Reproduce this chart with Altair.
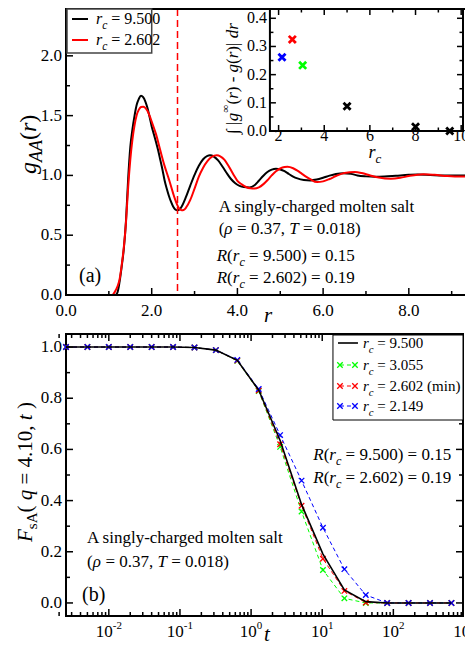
import altair as alt
import pandas as pd

SERIF = "Liberation Serif"

# ---------------- data ----------------
# panel (a): g_AA(r)
R_BLACK = [0.0, 1.0, 1.15, 1.2, 1.25, 1.3, 1.35, 1.4, 1.45, 1.5, 1.55, 1.6, 1.65, 1.7, 1.75, 1.8,
           1.85, 1.9, 1.95, 2.0, 2.05, 2.1, 2.15, 2.2, 2.25, 2.3, 2.35, 2.4, 2.45, 2.5, 2.55, 2.6, 2.65, 2.7,
           2.8, 2.9, 3.0, 3.1, 3.2, 3.3, 3.36, 3.45, 3.55, 3.65, 3.75, 3.85, 3.95, 4.05, 4.15, 4.28,
           4.4, 4.5, 4.6, 4.7, 4.8, 4.9, 5.0, 5.1, 5.2, 5.3, 5.4, 5.55, 5.7, 5.85, 6.0, 6.15, 6.3, 6.47,
           6.65, 6.8, 7.0, 7.2, 7.43, 7.7, 8.0, 8.2, 8.5, 8.8, 9.1, 9.4, 9.7]
G_BLACK = [0, 0, 0.0, 0.02, 0.11, 0.24, 0.39, 0.62, 0.97, 1.235, 1.385, 1.50, 1.59, 1.64, 1.667, 1.655,
           1.62, 1.565, 1.49, 1.41, 1.345, 1.28, 1.21, 1.13, 1.05, 0.96, 0.89, 0.83, 0.78, 0.74, 0.715, 0.708, 0.715, 0.74,
           0.82, 0.915, 1.005, 1.08, 1.135, 1.163, 1.168, 1.158, 1.125, 1.075, 1.02, 0.97, 0.935, 0.913, 0.903, 0.90,
           0.918, 0.955, 0.995, 1.028, 1.048, 1.056, 1.05, 1.035, 1.012, 0.99, 0.975, 0.962, 0.958, 0.965, 0.98, 0.998, 1.012, 1.019,
           1.013, 1.0, 0.992, 0.988, 0.99, 0.997, 1.005, 1.008, 1.004, 1.0, 1.0, 1.0, 1.0]
R_RED = [0.0, 1.0, 1.08, 1.12, 1.16, 1.2, 1.25, 1.3, 1.35, 1.4, 1.45, 1.5, 1.55, 1.6, 1.65, 1.7, 1.75, 1.8,
         1.85, 1.9, 1.95, 2.0, 2.1, 2.2, 2.3, 2.4, 2.5, 2.55, 2.6, 2.65, 2.7, 2.75, 2.8, 2.9, 3.0, 3.1, 3.2,
         3.3, 3.4, 3.52, 3.6, 3.7, 3.8, 3.92, 4.0, 4.1, 4.2, 4.3, 4.4, 4.5, 4.6, 4.7, 4.8, 4.9, 5.0, 5.1,
         5.17, 5.3, 5.4, 5.5, 5.6, 5.7, 5.86, 6.0, 6.15, 6.3, 6.5, 6.74, 6.9, 7.1, 7.3, 7.58, 7.8, 8.0,
         8.34, 8.6, 8.9, 9.2, 9.4, 9.7]
G_RED = [0, 0, 0.0, 0.015, 0.04, 0.07, 0.13, 0.25, 0.40, 0.61, 0.90, 1.13, 1.30, 1.42, 1.505, 1.55, 1.572, 1.575,
         1.565, 1.54, 1.50, 1.45, 1.345, 1.21, 1.08, 0.97, 0.85, 0.795, 0.75, 0.72, 0.708, 0.712, 0.73, 0.795, 0.89, 0.99, 1.065,
         1.12, 1.155, 1.168, 1.16, 1.13, 1.075, 1.0, 0.955, 0.925, 0.903, 0.892, 0.89, 0.90, 0.925, 0.96, 1.0, 1.035, 1.058, 1.07,
         1.072, 1.06, 1.04, 1.015, 0.99, 0.968, 0.944, 0.95, 0.97, 0.995, 1.02, 1.028, 1.02, 1.0, 0.982, 0.972, 0.98, 0.995,
         1.01, 1.005, 0.995, 0.99, 0.99, 0.992]
RC_MIN = [2.602]

# inset
INSET_RC = [2.149, 2.602, 3.055, 5.0, 8.0, 9.5]
INSET_DEV = [0.262, 0.325, 0.233, 0.088, 0.015, 0.0]
INSET_COL = ["#0000ff", "#ff0000", "#00ff00", "#000000", "#000000", "#000000"]

# panel (b): F_sA(q=4.10, t)
T = [0.0025, 0.005, 0.01, 0.02, 0.04, 0.08, 0.16, 0.32, 0.64, 1.28, 2.56, 5.12, 10.24, 20.48,
     40.96, 81.92, 163.84, 327.68, 655.36]
F_9500 = [1, 1, 1, 1, 1, 1, 0.998, 0.988, 0.948, 0.832, 0.635, 0.385, 0.191, 0.051, 0.005, 0, 0, 0, 0]
F_3055 = [1, 1, 1, 1, 1, 1, 0.998, 0.988, 0.946, 0.828, 0.610, 0.357, 0.129, 0.018, 0.0, 0, 0, 0, 0]
F_2602 = [1, 1, 1, 1, 1, 1, 0.998, 0.988, 0.947, 0.830, 0.620, 0.380, 0.173, 0.047, 0.002, 0, 0, 0, 0]
F_2149 = [1, 1, 1, 1, 1, 1, 0.998, 0.988, 0.950, 0.836, 0.656, 0.478, 0.294, 0.132, 0.031, 0.0, 0, 0, 0]

# tick values / labels
TOP_X_MAJOR = [0, 2, 4, 6, 8]
TOP_X_LABELS = ["0.0", "2.0", "4.0", "6.0", "8.0"]
TOP_X_MINOR = [1, 3, 5, 7, 9]
TOP_Y_MAJOR = [0, 0.5, 1.0, 1.5, 2.0]
TOP_Y_LABELS = ["0.0", "0.5", "1.0", "1.5", "2.0"]
TOP_Y_MINOR = [0.25, 0.75, 1.25, 1.75, 2.25]
IN_X_MAJOR = [2, 4, 6, 8, 10]
IN_X_LABELS = ["2", "4", "6", "8", "10"]
IN_X_MINOR = [3, 5, 7, 9]
IN_Y_MAJOR = [0.0, 0.1, 0.2, 0.3, 0.4]
IN_Y_LABELS = ["0.0", "0.1", "0.2", "0.3", "0.4"]
IN_Y_MINOR = [0.05, 0.15, 0.25, 0.35]
BOT_Y_MAJOR = [0.0, 0.2, 0.4, 0.6, 0.8, 1.0]
BOT_Y_LABELS = ["0.0", "0.2", "0.4", "0.6", "0.8", "1.0"]
BOT_Y_MINOR = [0.1, 0.3, 0.5, 0.7, 0.9]
BOT_X_MAJOR = [0.01, 0.1, 1, 10, 100, 1000]
BOT_X_EXP = ["-2", "-1", "0", "1", "2", "3"]
BOT_X_MINOR = [k * 10.0 ** e for e in range(-3, 3) for k in range(2, 10)]

# ---------------- layout (pixels inside one drawing area) ----------------
SX = 397 / 403.0           # horizontal squeeze so the page never overflows the window


def X(v):
    return v * SX


W, H = 397, 608            # drawing area; panel (a) at y 0..287, panel (b) at y 326..608
TOP_R, TH = X(420), 287    # panel (a) runs past the cropped right edge
B0, B1 = 326, 608          # panel (b) vertical extent
IN_X0, IN_X1, IN_Y1 = X(207), W, 123

xs_top = alt.Scale(domain=[0, 420 / 43.5], range=[0, TOP_R], nice=False, zero=False)
ys_top = alt.Scale(domain=[0, 2.4], range=[TH, 0], nice=False, zero=False)
xs_in = alt.Scale(domain=[1.62, 10.08], range=[IN_X0, IN_X1], nice=False, zero=False)
ys_in = alt.Scale(domain=[0, 0.4365], range=[IN_Y1, 0], nice=False, zero=False)
xs_bot = alt.Scale(type="log", domain=[0.0025, 953], range=[0, W], nice=False)
ys_bot = alt.Scale(domain=[-0.051, 1.051], range=[B1, B0], nice=False, zero=False)

ONE = pd.DataFrame({"k": [0]})

REG_W = {" ": .25, "(": .333, ")": .333, "=": .564, ".": .25, ",": .25, "-": .333, "|": .2,
         "A": .722, "T": .611, "R": .667, "F": .556,
         "a": .444, "c": .444, "d": .5, "e": .444, "g": .5, "h": .5, "i": .278, "l": .278,
         "m": .778, "n": .5, "o": .5, "r": .333, "s": .389, "t": .278, "y": .5, "∫": .3, "∞": .75}
ITA_W = {"R": .611, "r": .389, "c": .444, "T": .556, "ρ": .5, "q": .5, "F": .611, "t": .278,
         "g": .5, "A": .611, "d": .5, "s": .389, " ": .25}


def tw(s, ital, size):
    tab = ITA_W if ital else REG_W
    return sum(tab.get(ch, 0.5) for ch in s) * size


def rich(pieces, x, y, angle=0, color="black"):
    """pieces: (text, italic, size, dy) -- placed one after another."""
    off = 0.0
    out = []
    for txt, ital, size, dy in pieces:
        core = txt.strip(" ")
        lead = len(txt) - len(txt.lstrip(" "))
        if core:
            mk = alt.Chart(ONE).mark_text(
                text=core, font=SERIF, fontSize=size, fontStyle="italic" if ital else "normal",
                align="left", baseline="alphabetic", dx=off + lead * 0.25 * size, dy=dy, angle=angle,
                color=color)
            out.append(mk.encode(x=alt.value(x), y=alt.value(y)))
        off += tw(txt, ital, size)
    return out


def vticks(vals, scale, x0, length, sw=1.5):
    d = pd.DataFrame({"v": vals})
    return alt.Chart(d).mark_rule(color="black", strokeWidth=sw).encode(
        y=alt.Y("v:Q", scale=scale, axis=None), x=alt.value(x0), x2=alt.value(x0 + length))


def hticks(vals, scale, y0, length, sw=1.5):
    d = pd.DataFrame({"v": vals})
    return alt.Chart(d).mark_rule(color="black", strokeWidth=sw).encode(
        x=alt.X("v:Q", scale=scale, axis=None), y=alt.value(y0), y2=alt.value(y0 + length))


def ylabels(vals, labs, scale, x0, size=17):
    d = pd.DataFrame({"v": vals, "lab": labs})
    return alt.Chart(d).mark_text(font=SERIF, fontSize=size, baseline="middle", align="right",
                                  color="black").encode(
        y=alt.Y("v:Q", scale=scale, axis=None), x=alt.value(x0), text="lab:N")


def xlabels(vals, labs, scale, y0, size=17):
    d = pd.DataFrame({"v": vals, "lab": labs})
    return alt.Chart(d).mark_text(font=SERIF, fontSize=size, baseline="alphabetic", align="center",
                                  color="black").encode(
        x=alt.X("v:Q", scale=scale, axis=None), y=alt.value(y0), text="lab:N")


def frame(x0, x1, y0, y1, fill=None, stroke="black", sw=2):
    kw = dict(stroke=stroke, strokeWidth=sw)
    if fill:
        kw["fill"] = fill
    else:
        kw["fillOpacity"] = 0
    return alt.Chart(ONE).mark_rect(**kw).encode(
        x=alt.value(x0), x2=alt.value(x1), y=alt.value(y0), y2=alt.value(y1))


def rc_label(prefix_R, val, res, x, y, size=17):
    pieces = []
    if prefix_R:
        pieces += [("R", True, size, 0), ("(", False, size, 0)]
    pieces += [("r", True, size, 0), ("c", True, size * 0.72, 5)]
    if val:
        pieces += [(" = " + val + (") = " + res if prefix_R else ""), False, size, 0)]
    return rich(pieces, x, y)


XPATH = "M-1,-1L1,1M-1,1L1,-1"
layers = []

# ---------------- panel (a) ----------------
df_b = pd.DataFrame({"r": R_BLACK, "g": G_BLACK})
df_r = pd.DataFrame({"r": R_RED, "g": G_RED})
layers += [
    alt.Chart(df_b).mark_line(color="black", strokeWidth=2, interpolate="monotone").encode(
        x=alt.X("r:Q", scale=xs_top, axis=None), y=alt.Y("g:Q", scale=ys_top, axis=None)),
    alt.Chart(df_r).mark_line(color="#ff0000", strokeWidth=2, interpolate="monotone").encode(
        x=alt.X("r:Q", scale=xs_top, axis=None), y=alt.Y("g:Q", scale=ys_top, axis=None)),
    alt.Chart(pd.DataFrame({"r": RC_MIN})).mark_rule(color="#ff0000", strokeDash=[7, 4], strokeWidth=1.5).encode(
        x=alt.X("r:Q", scale=xs_top, axis=None), y=alt.value(1), y2=alt.value(TH)),
    frame(0, TOP_R, 1, TH),
    vticks(TOP_Y_MAJOR, ys_top, 0, 7), vticks(TOP_Y_MINOR, ys_top, 0, 4),
    hticks(TOP_X_MAJOR, xs_top, TH, -7), hticks(TOP_X_MINOR, xs_top, TH, -4),
    ylabels(TOP_Y_MAJOR, TOP_Y_LABELS, ys_top, -4),
    xlabels(TOP_X_MAJOR, TOP_X_LABELS, xs_top, TH + 21),
    # legend (a)
    frame(1, X(87), 1, 45, fill="white", stroke="#444444", sw=1.5),
    alt.Chart(ONE).mark_rule(color="black", strokeWidth=2).encode(x=alt.value(6), x2=alt.value(22), y=alt.value(11)),
    alt.Chart(ONE).mark_rule(color="#ff0000", strokeWidth=2).encode(x=alt.value(6), x2=alt.value(22), y=alt.value(32)),
]
layers += rc_label(False, "9.500", "", 30, 16, 16)
layers += rc_label(False, "2.602", "", 30, 37, 16)
layers += rich([("A singly-charged molten salt", False, 17, 0)], X(155), 204)
layers += rich([("(", False, 17, 0), ("ρ", True, 17, 0), (" = 0.37, ", False, 17, 0), ("T", True, 17, 0),
                (" = 0.018)", False, 17, 0)], X(155), 226)
layers += rc_label(True, "9.500", "0.15", X(153), 253)
layers += rc_label(True, "2.602", "0.19", X(153), 275)
layers += rich([("(a)", False, 20, 0)], 13, 274)
layers += rich([("r", True, 21, 0)], X(201), 314)
layers += rich([("g", True, 24, 0), ("AA", True, 18, 6), ("(", False, 24, 0), ("r", True, 24, 0), (")", False, 24, 0)],
               -30, 166, angle=270)

# inset
df_in = pd.DataFrame({"rc": INSET_RC, "dev": INSET_DEV, "col": INSET_COL})
layers += [
    frame(IN_X0, IN_X1, 1, IN_Y1, fill="white"),
    vticks(IN_Y_MAJOR, ys_in, IN_X0, 6), vticks(IN_Y_MINOR, ys_in, IN_X0, 3.5),
    vticks(IN_Y_MAJOR, ys_in, IN_X1, -6), vticks(IN_Y_MINOR, ys_in, IN_X1, -3.5),
    hticks(IN_X_MAJOR, xs_in, IN_Y1, -6), hticks(IN_X_MINOR, xs_in, IN_Y1, -3.5),
    hticks(IN_X_MAJOR, xs_in, 1, 6), hticks(IN_X_MINOR, xs_in, 1, 3.5),
    alt.Chart(df_in).mark_point(shape=XPATH, size=50, strokeWidth=2.8, filled=False, opacity=1).encode(
        x=alt.X("rc:Q", scale=xs_in, axis=None), y=alt.Y("dev:Q", scale=ys_in, axis=None),
        color=alt.Color("col:N", scale=None, legend=None)),
    xlabels(IN_X_MAJOR, IN_X_LABELS, xs_in, IN_Y1 + 10, 16),
    ylabels(IN_Y_MAJOR, IN_Y_LABELS, ys_in, IN_X0 - 3, 16),
]
layers += rc_label(False, "", "", X(307), 150, 18)
layers += rich([("∫ |", False, 17, 0), ("g", True, 17, 0), ("∞", False, 11, -9), ("(", False, 17, 0),
                ("r", True, 17, 0), (") - ", False, 17, 0), ("g", True, 17, 0), ("(", False, 17, 0),
                ("r", True, 17, 0), (")| ", False, 17, 0), ("dr", True, 17, 0)], X(175), 126, angle=270)


# ---------------- panel (b) ----------------
def fdf(vals):
    return pd.DataFrame({"t": T, "f": vals})


def dashed(vals, col):
    base = alt.Chart(fdf(vals))
    enc = dict(x=alt.X("t:Q", scale=xs_bot, axis=None), y=alt.Y("f:Q", scale=ys_bot, axis=None))
    return [base.mark_line(color=col, strokeDash=[4, 3], strokeWidth=1).encode(**enc),
            base.mark_point(shape=XPATH, size=30, strokeWidth=1.3, filled=False, color=col, opacity=1).encode(**enc)]


layers.append(frame(0, W, B0, B1))
layers += dashed(F_3055, "#00ff00")
layers += dashed(F_2602, "#ff0000")
layers += dashed(F_2149, "#0000ff")
layers.append(alt.Chart(fdf(F_9500)).mark_line(color="black", strokeWidth=1.6).encode(
    x=alt.X("t:Q", scale=xs_bot, axis=None), y=alt.Y("f:Q", scale=ys_bot, axis=None)))
minor_b = [v for v in BOT_X_MINOR if v < 953]
layers += [
    vticks(BOT_Y_MAJOR, ys_bot, 0, 7), vticks(BOT_Y_MINOR, ys_bot, 0, 4),
    vticks(BOT_Y_MAJOR, ys_bot, W, -7), vticks(BOT_Y_MINOR, ys_bot, W, -4),
    hticks(BOT_X_MAJOR[:-1], xs_bot, B1, -7), hticks(minor_b, xs_bot, B1, -4),
    hticks(BOT_X_MAJOR[:-1], xs_bot, B0, 7), hticks(minor_b, xs_bot, B0, 4),
    ylabels(BOT_Y_MAJOR, BOT_Y_LABELS, ys_bot, -4),
]
lab_df = pd.DataFrame({"v": BOT_X_MAJOR, "e": BOT_X_EXP})
neg = lab_df[lab_df.e.str.startswith("-")]
pos = lab_df[~lab_df.e.str.startswith("-")]
for sub, ew in ((neg, 9.2), (pos, 5.5)):
    Wl = 17 + ew
    layers.append(alt.Chart(sub).mark_text(text="10", font=SERIF, fontSize=17, align="right", baseline="alphabetic",
                                           dx=17 - Wl / 2, color="black").encode(
        x=alt.X("v:Q", scale=xs_bot, axis=None), y=alt.value(B1 + 21)))
    layers.append(alt.Chart(sub).mark_text(font=SERIF, fontSize=11, align="left", baseline="alphabetic",
                                           dx=17 - Wl / 2, dy=-8, color="black").encode(
        x=alt.X("v:Q", scale=xs_bot, axis=None), y=alt.value(B1 + 21), text="e:N"))

# legend (b)
layers.append(frame(X(271), W, B0 + 1, B0 + 86, fill="white", sw=1))
LEG_Y = [9, 31, 52, 72]
LEG_C = ["black", "#00ff00", "#ff0000", "#0000ff"]
LEG_V = ["9.500", "3.055", "2.602 (min)", "2.149"]
LX = X(271)
for yy, cc, vv in zip(LEG_Y, LEG_C, LEG_V):
    yy = yy + B0
    if cc == "black":
        layers.append(alt.Chart(ONE).mark_rule(color=cc, strokeWidth=1.6).encode(
            x=alt.value(LX + 5), x2=alt.value(LX + 25), y=alt.value(yy)))
    else:
        layers.append(alt.Chart(ONE).mark_rule(color=cc, strokeWidth=1, strokeDash=[4, 3]).encode(
            x=alt.value(LX + 7), x2=alt.value(LX + 22), y=alt.value(yy)))
        for xx in (LX + 7, LX + 22):
            layers.append(alt.Chart(ONE).mark_point(shape=XPATH, size=30, strokeWidth=1.3, filled=False, color=cc,
                                                    opacity=1).encode(x=alt.value(xx), y=alt.value(yy)))
    layers += rc_label(False, vv, "", LX + 30, yy + 5, 15)
layers += rc_label(True, "9.500", "0.15", X(251), B0 + 126)
layers += rc_label(True, "2.602", "0.19", X(251), B0 + 149)
layers += rich([("A singly-charged molten salt", False, 17, 0)], 21, B0 + 209)
layers += rich([("(", False, 17, 0), ("ρ", True, 17, 0), (" = 0.37, ", False, 17, 0), ("T", True, 17, 0),
                (" = 0.018)", False, 17, 0)], 21, B0 + 233)
layers += rich([("(b)", False, 20, 0)], 16, B0 + 267)
layers += rich([("t", True, 21, 0)], X(201), 633)
layers += rich([("F", True, 21, 0), ("sA", False, 15, 5), ("( ", False, 21, 0), ("q", True, 21, 0),
                (" = 4.10, ", False, 21, 0), ("t", True, 21, 0), (" )", False, 21, 0)], -34, 534, angle=270)

chart = alt.layer(*layers).resolve_scale(x="independent", y="independent").properties(
    width=W, height=H,
    autosize=alt.AutoSizeParams(type="none"),
    padding={"left": 58, "top": 0, "right": 2, "bottom": 27},
    background="white",
).configure_view(stroke=None)

chart.save("out.html", embed_options={"renderer": "svg", "actions": False})
